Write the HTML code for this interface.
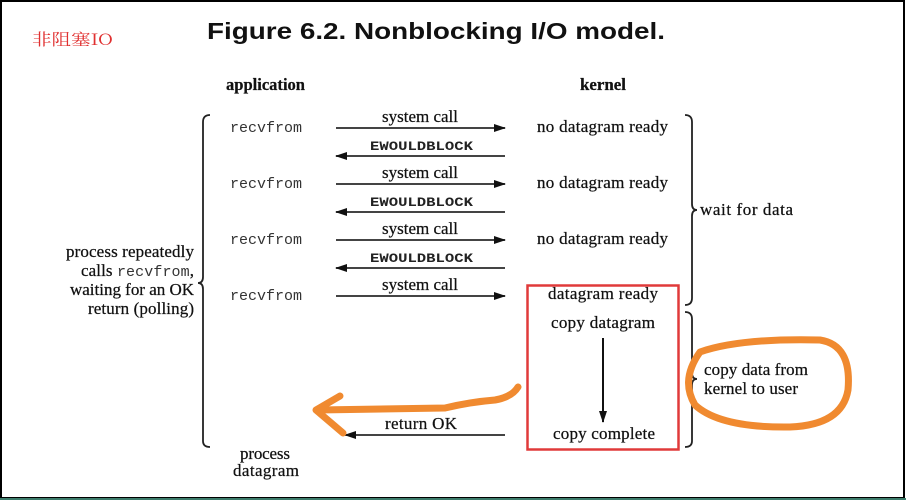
<!DOCTYPE html>
<html><head><meta charset="utf-8"><style>
html,body{margin:0;padding:0;background:#fff}
svg{display:block}
.s{font-family:"Liberation Serif",serif;font-size:17px;fill:#111;stroke:#111;stroke-width:0.25}
.m{font-family:"Liberation Mono",monospace;font-size:15px;fill:#333}
.e{font-family:"Liberation Mono",monospace;font-size:13px;fill:#222;font-weight:bold}
</style></head><body>
<svg width="906" height="503" viewBox="0 0 906 503" xmlns="http://www.w3.org/2000/svg">
<rect x="0" y="0" width="906" height="503" fill="#fff"/>
<rect x="1" y="1" width="903" height="497" fill="none" stroke="#000" stroke-width="2"/>
<rect x="0" y="498" width="906" height="2" fill="#3d7d6c"/>
<text x="32" y="45" font-family="'Noto Serif CJK SC','Noto Sans CJK SC',serif" font-size="16" fill="#e03030" textLength="81" lengthAdjust="spacingAndGlyphs">非阻塞IO</text>
<text x="207" y="39" font-family="Liberation Sans,sans-serif" font-weight="bold" font-size="23" fill="#111" textLength="458" lengthAdjust="spacingAndGlyphs">Figure 6.2. Nonblocking I/O model.</text>
<text x="226" y="90" class="s" font-weight="bold" textLength="79" lengthAdjust="spacingAndGlyphs">application</text>
<text x="580" y="90" class="s" font-weight="bold" textLength="46" lengthAdjust="spacingAndGlyphs">kernel</text>
<defs>
<marker id="a" markerWidth="12" markerHeight="8" refX="11" refY="4" orient="auto" markerUnits="userSpaceOnUse"><path d="M0,0 L12,4 L0,8z" fill="#111"/></marker>
</defs>
<g stroke="#444" stroke-width="2" fill="none">
<line x1="336" y1="128" x2="505" y2="128" marker-end="url(#a)"/>
<line x1="336" y1="184" x2="505" y2="184" marker-end="url(#a)"/>
<line x1="336" y1="240" x2="505" y2="240" marker-end="url(#a)"/>
<line x1="336" y1="296" x2="505" y2="296" marker-end="url(#a)"/>
<line x1="505" y1="156" x2="336" y2="156" marker-end="url(#a)"/>
<line x1="505" y1="212" x2="336" y2="212" marker-end="url(#a)"/>
<line x1="505" y1="268" x2="336" y2="268" marker-end="url(#a)"/>
<line x1="505" y1="435" x2="345" y2="435" marker-end="url(#a)"/>
<line x1="603" y1="338" x2="603" y2="422" stroke="#111" marker-end="url(#a)"/>
</g>
<g class="m">
<text x="230" y="132">recvfrom</text><text x="230" y="188">recvfrom</text><text x="230" y="244">recvfrom</text><text x="230" y="300">recvfrom</text>
</g>
<g class="s" lengthAdjust="spacingAndGlyphs">
<text x="382" y="122" textLength="76">system call</text><text x="382" y="178" textLength="76">system call</text><text x="382" y="234" textLength="76">system call</text><text x="382" y="290" textLength="76">system call</text>
<text x="385" y="429" textLength="72">return OK</text>
<text x="537" y="132" textLength="131">no datagram ready</text><text x="537" y="188" textLength="131">no datagram ready</text><text x="537" y="244" textLength="131">no datagram ready</text>
<text x="548" y="299" textLength="110">datagram ready</text><text x="551" y="328" textLength="104">copy datagram</text><text x="553" y="439" textLength="102">copy complete</text>
<text x="240" y="459" textLength="50">process</text><text x="233" y="476" textLength="66">datagram</text>
</g>
<g class="e">
<text x="370" y="150" textLength="103" lengthAdjust="spacingAndGlyphs">EWOULDBLOCK</text><text x="370" y="206" textLength="103" lengthAdjust="spacingAndGlyphs">EWOULDBLOCK</text><text x="370" y="262" textLength="103" lengthAdjust="spacingAndGlyphs">EWOULDBLOCK</text>
</g>
<g class="s" lengthAdjust="spacingAndGlyphs">
<text x="66" y="257" textLength="128">process repeatedly</text>
<text x="81" y="276" textLength="113">calls <tspan class="m" font-size="13" stroke="none">recvfrom</tspan>,</text>
<text x="70" y="295" textLength="124">waiting for an OK</text>
<text x="88" y="314" textLength="106">return (polling)</text>
<text x="700" y="215" textLength="93">wait for data</text>
<text x="704" y="375" textLength="104">copy data from</text>
<text x="704" y="394" textLength="94">kernel to user</text>
</g>
<g stroke="#222" stroke-width="1.8" fill="none">
<path d="M210,115 Q203,115 203,122 L203,277 Q203,283 198,283 Q203,283 203,289 L203,441 Q203,447 210,447"/>
<path d="M685,115 Q692,115 692,122 L692,204 Q692,210 697,210 Q692,210 692,216 L692,298 Q692,305 685,305"/>
<path d="M685,312 Q692,312 692,319 L692,373 Q692,379 697,379 Q692,379 692,385 L692,441 Q692,447 685,447"/>
</g>
<rect x="527.5" y="285.5" width="151" height="164" fill="none" stroke="#e03a3a" stroke-width="2.5"/>
<g stroke="#f08a30" stroke-width="7" fill="none" stroke-linecap="round" stroke-linejoin="round">
<path d="M518,387 Q512,397 495,400 Q470,402 445,408 L318,410"/>
<path d="M340,396 L316,410 L343,433"/>
<path d="M700,352 Q740,338 820,340 Q852,345 848,390 Q842,425 790,427 Q720,428 695,405 Q680,380 700,352z"/>
</g>
</svg>
</body></html>
